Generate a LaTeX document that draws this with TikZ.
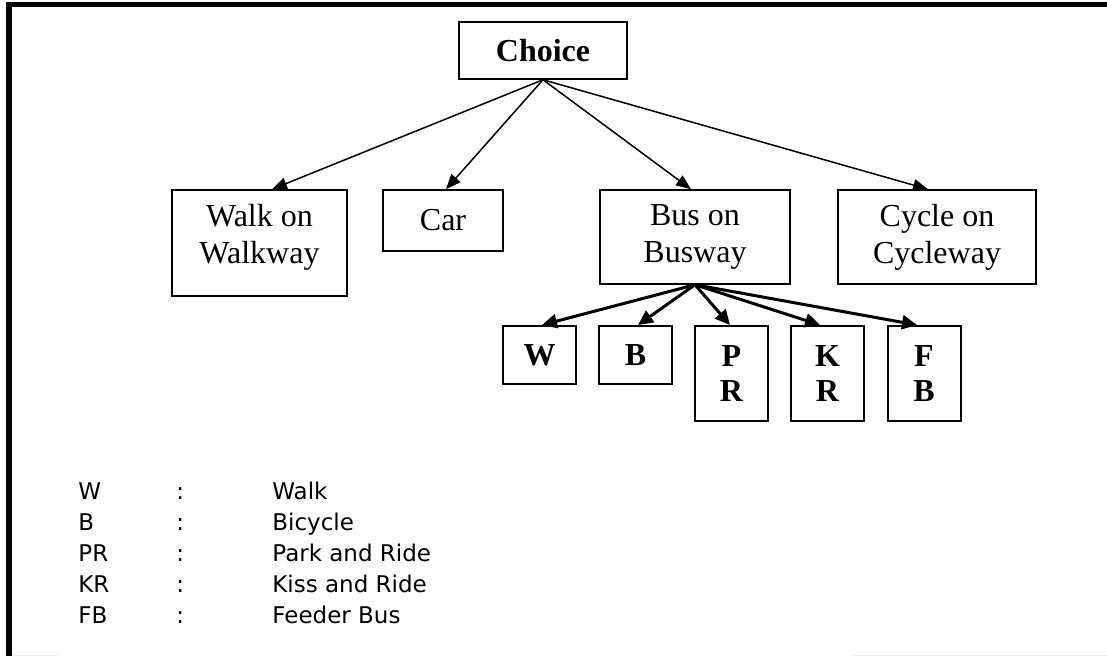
\documentclass[tikz,border=0pt]{standalone}
\usepackage{fontspec}
\setmainfont{Liberation Serif}
\newfontfamily\legendfont{DejaVu Sans}
\usepackage{tikz}
\usetikzlibrary{arrows.meta, positioning, calc}

\begin{document}
\begin{tikzpicture}[
    x=0.5pt, y=-0.5pt,
    % Node styles
    box/.style={rectangle, draw=black, line width=0.75pt, inner sep=0pt, align=center, font=\fontsize{16}{18.5}\selectfont},
    letterbox/.style={rectangle, draw=black, line width=1pt, inner sep=0pt, align=center, minimum width=36.5pt, font=\fontsize{16}{17.5}\selectfont\bfseries},
    legendtext/.style={anchor=base west, inner sep=0pt, font=\legendfont\fontsize{11.5}{13}\selectfont},
    arrow/.style={-{Triangle[length=7.5pt, width=6pt]}, line width=0.75pt},
    thickarrow/.style={-{Triangle[length=7.5pt, width=7pt]}, line width=1.5pt}
]
\useasboundingbox (0,0) rectangle (1107,656);

% Frame (top and left edge only)
\draw[line width=2.75pt] (8.8,656) -- (8.8,4.5) -- (1107,4.5);
\draw[gray!12, line width=1pt] (12,655.5) -- (58,655.5);
\draw[gray!12, line width=1pt] (852,655.5) -- (1107,655.5);

% Top level
\node[box, minimum width=84pt, minimum height=28.5pt, font=\fontsize{16}{18.5}\selectfont\bfseries] (choice) at (543, 50.5) {Choice};

% Modes
\node[box, minimum width=87.5pt, minimum height=53pt, text depth=9.5pt] (walk) at (259.5, 243) {Walk on\\Walkway};
\node[box, minimum width=60pt, minimum height=30.5pt] (car) at (443, 220.5) {Car};
\node[box, minimum width=95pt, minimum height=47pt] (bus) at (695, 237) {Bus on\\Busway};
\node[box, minimum width=99pt, minimum height=47pt] (cycle) at (937, 237) {Cycle on\\Cycleway};

% Arrows from choice
\draw[arrow] (choice.south) -- ($(walk.north)+(12.5,0)$);
\draw[arrow] (choice.south) -- ($(car.north)+(3,0)$);
\draw[arrow] (choice.south) -- ($(bus.north)+(-4,0)$);
\draw[arrow] (choice.south) -- ($(cycle.north)+(-9,0)$);

% Access modes to the busway
\node[letterbox, minimum height=29pt] (w) at (539.5, 355) {W};
\node[letterbox, minimum height=29pt] (b) at (635.5, 355) {B};
\node[letterbox, minimum height=47.5pt] (pr) at (731.5, 373.5) {P\\R};
\node[letterbox, minimum height=47.5pt] (kr) at (827.5, 373.5) {K\\R};
\node[letterbox, minimum height=47.5pt] (fb) at (924, 373.5) {F\\B};

% Arrows from bus
\draw[thickarrow] (bus.south) -- ($(w.north)+(2.5,0)$);
\draw[thickarrow] (bus.south) -- ($(b.north)+(2.5,0)$);
\draw[thickarrow] (bus.south) -- ($(pr.north)+(-1.5,0)$);
\draw[thickarrow] (bus.south) -- ($(kr.north)+(-7.5,0)$);
\draw[thickarrow] (bus.south) -- ($(fb.north)+(-7,0)$);

% Legend
\node[legendtext] (abbrw) at (78, 500) {W};
\node[legendtext] (colonw) at (176, 500) {:};
\node[legendtext] (descw) at (272, 500) {Walk};
\node[legendtext] (abbrb) at (78, 531) {B};
\node[legendtext] (colonb) at (176, 531) {:};
\node[legendtext] (descb) at (272, 531) {Bicycle};
\node[legendtext] (abbrpr) at (78, 562) {PR};
\node[legendtext] (colonpr) at (176, 562) {:};
\node[legendtext] (descpr) at (272, 562) {Park and Ride};
\node[legendtext] (abbrkr) at (78, 593) {KR};
\node[legendtext] (colonkr) at (176, 593) {:};
\node[legendtext] (desckr) at (272, 593) {Kiss and Ride};
\node[legendtext] (abbrfb) at (78, 624) {FB};
\node[legendtext] (colonfb) at (176, 624) {:};
\node[legendtext] (descfb) at (272, 624) {Feeder Bus};

\end{tikzpicture}
\end{document}
